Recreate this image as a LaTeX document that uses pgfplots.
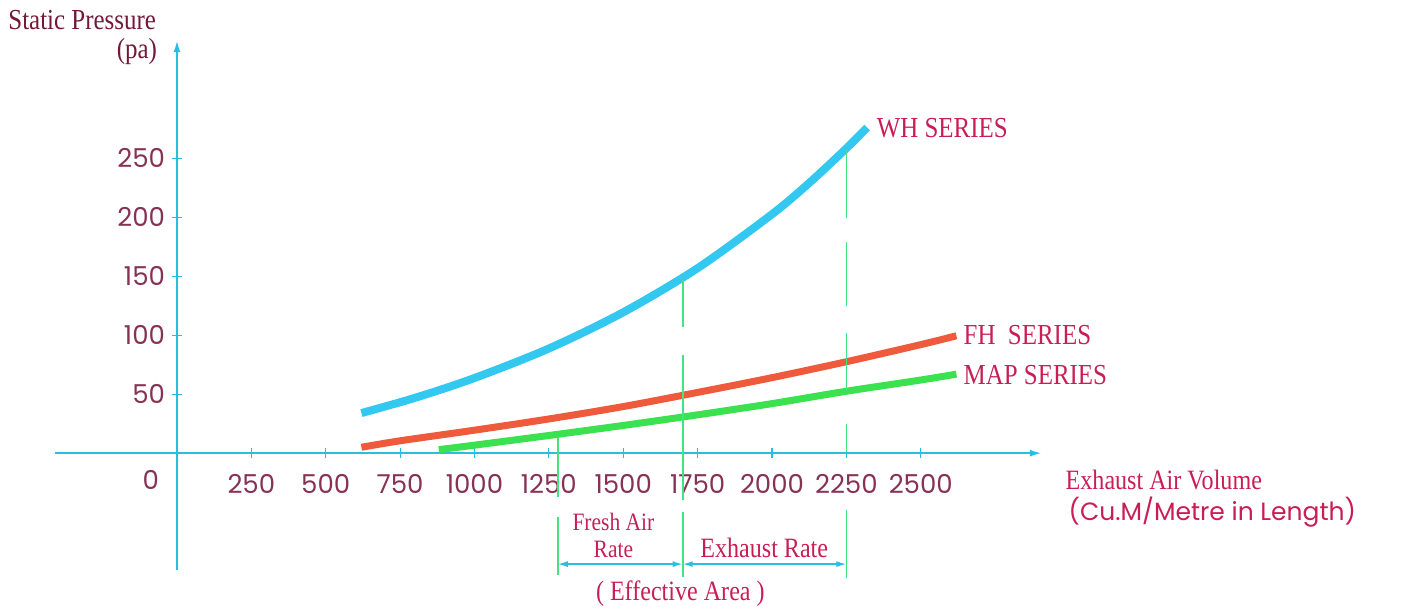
\documentclass[border=0pt]{standalone}
\usepackage{fontspec}
\setmainfont{Liberation Serif}
\newfontfamily\gfont{Poppins}[Scale=1.0]
\usepackage{pgfplots}
\pgfplotsset{compat=1.18}
\usetikzlibrary{arrows.meta}
\definecolor{axc}{RGB}{40,190,225}
\definecolor{whc}{RGB}{50,200,240}
\definecolor{fhc}{RGB}{240,90,60}
\definecolor{mapc}{RGB}{60,225,80}
\definecolor{vlc}{RGB}{70,225,130}
\definecolor{tickc}{RGB}{135,50,85}
\definecolor{labc}{RGB}{200,30,85}
\definecolor{titc}{RGB}{115,25,55}
\newcommand\cond[1]{\scalebox{0.86}[1]{#1}}
\begin{document}
\begin{tikzpicture}
\useasboundingbox (-27.5pt,-20pt) rectangle (676pt,285pt);
\begin{axis}[
  at={(0,0)}, anchor=south west,
  scale only axis, width=493.4pt, height=264.9pt,
  xmin=-410, xmax=2907, ymin=-99, ymax=350,
  axis lines=middle,
  axis line style={axc, line width=1pt, -{Latex[length=6pt,width=3.5pt]}},
  xtick={250,500,...,2500}, ytick={50,100,...,250},
  tick align=center, major tick length=5pt,
  tick style={axc, line width=0.6pt},
  ticklabel style={font=\gfont\fontsize{13}{13}\selectfont, text=tickc},
  xticklabel style={yshift=-4.5pt},
  /pgf/number format/assume math mode=true,
  /pgf/number format/1000 sep={},
  clip=false,
]
% curves
\addplot[whc, line width=4pt, smooth] coordinates {
 (620,34) (800,46.9) (1000,63.7) (1250,88.7) (1500,119.4) (1750,156.8) (2000,202.5) (2125,229) (2250,258.3) (2320,276)};
\addplot[fhc, line width=3.5pt, smooth] coordinates {
 (620,5) (750,10.5) (1000,19.5) (1250,29) (1500,39.5) (1750,51.5) (2000,64) (2250,77.5) (2500,92) (2620,99.5)};
\addplot[mapc, line width=3.5pt, smooth] coordinates {
 (880,3) (1000,6.8) (1250,15) (1500,23.5) (1750,32.5) (2000,42) (2250,52.5) (2500,62) (2620,67)};
% vertical guide lines
\addplot[vlc, line width=0.8pt] coordinates {(1280,12.7) (1280,-37.3)};
\addplot[vlc, line width=0.8pt] coordinates {(1280,-54) (1280,-103)};
\addplot[vlc, line width=0.8pt] coordinates {(1700,146.6) (1700,106.8)};
\addplot[vlc, line width=0.8pt] coordinates {(1700,83) (1700,-40)};
\addplot[vlc, line width=0.8pt] coordinates {(1700,-50) (1700,-105)};
\addplot[vlc, line width=0.8pt] coordinates {(2250,257) (2250,199)};
\addplot[vlc, line width=0.8pt] coordinates {(2250,179) (2250,125)};
\addplot[vlc, line width=0.8pt] coordinates {(2250,102) (2250,53)};
\addplot[vlc, line width=0.8pt] coordinates {(2250,25) (2250,1)};
\addplot[vlc, line width=0.8pt] coordinates {(2250,-48) (2250,-106)};
% range arrows
\addplot[axc, line width=0.8pt, {Latex[length=5pt,width=3pt]}-{Latex[length=5pt,width=3pt]}] coordinates {(1280,-94) (1700,-94)};
\addplot[axc, line width=0.8pt, {Latex[length=5pt,width=3pt]}-{Latex[length=5pt,width=3pt]}] coordinates {(1700,-94) (2250,-94)};
% labels
\node[anchor=west, text=titc, font=\fontsize{14.5}{15}\selectfont, inner sep=0pt] at (axis cs:-568,367) {\cond{Static Pressure}};
\node[anchor=east, text=titc, font=\fontsize{14.5}{15}\selectfont, inner sep=0pt] at (axis cs:-66,340) {\cond{(pa)}};
\node[text=tickc, font=\gfont\fontsize{13}{13}\selectfont] at (axis cs:-88,-23) {0};
\node[anchor=west, text=labc, font=\fontsize{14.5}{15}\selectfont, inner sep=0pt] at (axis cs:2351,275.4) {\cond{WH SERIES}};
\node[anchor=west, text=labc, font=\fontsize{14.5}{15}\selectfont, inner sep=0pt] at (axis cs:2643,100) {\cond{FH\ \ SERIES}};
\node[anchor=west, text=labc, font=\fontsize{14.5}{15}\selectfont, inner sep=0pt] at (axis cs:2643,66) {\cond{MAP SERIES}};
\node[anchor=west, text=labc, font=\fontsize{14}{15}\selectfont, inner sep=0pt] at (axis cs:2986,-23) {\cond{Exhaust Air Volume}};
\node[anchor=west, text=labc, font=\gfont\fontsize{12.5}{13}\selectfont, inner sep=0pt] at (axis cs:2996,-50) {(Cu.M/Metre in Length)};
\node[text=labc, font=\fontsize{12.5}{13}\selectfont, inner sep=0pt] at (axis cs:1467,-58.5) {\cond{Fresh Air}};
\node[text=labc, font=\fontsize{12.5}{13}\selectfont, inner sep=0pt] at (axis cs:1467,-81.4) {\cond{Rate}};
\node[text=labc, font=\fontsize{14}{15}\selectfont] at (axis cs:1974,-80.5) {\cond{Exhaust Rate}};
\node[text=labc, font=\fontsize{14}{15}\selectfont] at (axis cs:1692,-118.6) {\cond{( Effective Area )}};
\end{axis}
\end{tikzpicture}
\end{document}
